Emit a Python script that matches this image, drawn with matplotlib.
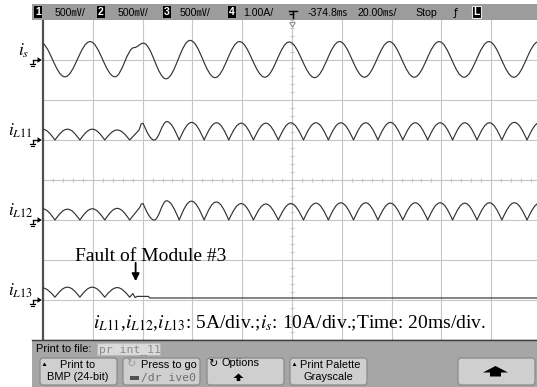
import numpy as np
import matplotlib
matplotlib.use("Agg")
import matplotlib.pyplot as plt
from matplotlib.path import Path
from matplotlib.patches import PathPatch, Rectangle, FancyBboxPatch, Polygon

plt.rcParams["mathtext.fontset"] = "stix"

# ---------------- scope settings ----------------
MS_PER_DIV = 20.0
N_HDIV_VISIBLE = 9.92          # screen is cut a little before the 10th division
N_VDIV = 8
TRIGGER_T = 100.0              # ms, trigger position (screen centre)

# channel ground references, divisions from screen centre
ref_is, ref_l11, ref_l12, ref_l13 = 3.0, 1.0, -1.0, -3.0

# ---------------- waveform knots ----------------
# time (ms), level (div above channel ground), shape: 'p' smooth extremum, 'c' corner
is_t = [-1.2, 8.8, 18.9, 28.9, 36.6, 40.3, 49.4, 59.1, 69.1, 78.9, 89.1, 98.9, 109.1,
        119.1, 129.1, 139.1, 149.1, 159.1, 169.1, 179.1, 189.1, 199.1, 209.1]
is_v = [0.45, -0.42, 0.46, -0.42, 0.31, 0.42, -0.47, 0.49, -0.44, 0.46, -0.43, 0.45, -0.44,
        0.46, -0.43, 0.46, -0.43, 0.46, -0.43, 0.46, -0.43, 0.46, -0.43]
is_k = "ppppppppppppppppppppppp"

l11_t = [-0.2, 4.8, 9.8, 14.8, 19.8, 24.8, 29.8, 34.8, 38.6, 39.4, 40.2, 44.7,
         49.7, 54.7, 59.7, 64.7, 69.7, 74.6, 79.6, 84.5, 89.5, 94.5, 99.5, 104.6,
         109.6, 114.6, 119.6, 124.7, 129.6, 134.5, 139.5, 144.5, 149.5, 154.5,
         159.5, 164.5, 169.4, 174.3, 179.3, 184.3, 189.3, 194.4, 199.4]
l11_v = [0.27, 0, 0.27, 0, 0.27, 0, 0.25, 0, 0.25, 0.40, 0.42, 0,
         0.46, 0, 0.44, 0, 0.43, 0, 0.42, 0, 0.42, 0, 0.43, 0,
         0.43, 0, 0.43, 0, 0.43, 0, 0.44, 0, 0.43, 0,
         0.43, 0, 0.43, 0, 0.43, 0, 0.44, 0, 0.43]
l11_k = "pcpcpcpccccp" + "pcpcpcpcpcpcpcpcpcpcpcpcpcpcpcp"

l12_t = [-0.2, 4.8, 9.8, 14.8, 19.8, 24.8, 29.8, 34.8, 38.8, 39.5, 40.2, 44.7,
         49.6, 54.7, 59.6, 64.7, 69.6, 74.6, 79.6, 84.5, 89.5, 94.5, 99.5, 104.6,
         109.6, 114.6, 119.6, 124.7, 129.6, 134.5, 139.5, 144.5, 149.5, 154.5,
         159.5, 164.5, 169.4, 174.3, 179.3, 184.3, 189.3, 194.4, 199.4]
l12_v = [0.28, 0, 0.27, 0, 0.28, 0, 0.29, 0, 0.31, 0.40, 0.41, 0,
         0.48, 0, 0.47, 0, 0.45, 0, 0.41, 0, 0.40, 0, 0.41, 0,
         0.42, 0, 0.43, 0, 0.43, 0, 0.42, 0, 0.43, 0,
         0.43, 0, 0.42, 0, 0.43, 0, 0.43, 0, 0.42]
l12_k = l11_k

l13_t = [-0.2, 4.8, 9.8, 14.8, 19.8, 24.8, 29.8, 34.8, 36.1, 37.0, 37.8, 42.3, 42.9, 198.4]
l13_v = [0.30, 0.07, 0.32, 0.07, 0.32, 0.07, 0.31, 0.07, 0.16, 0.06, 0.09, 0.09, 0.05, 0.05]
l13_k = "pcpcpcpccccccc"

labels = [r"$i_s$", r"$i_{\mathit{L11}}$", r"$i_{\mathit{L12}}$", r"$i_{\mathit{L13}}$"]
scale_note = (r"$i_{\mathit{L11}}$,$i_{\mathit{L12}}$,$i_{\mathit{L13}}$: 5A/div.;"
              r"$i_s$: 10A/div.;Time: 20ms/div.")
fault_note = "Fault of Module #3"
fault_t = 37.2

top_fields = ["500\u33B7/", "500\u33B7/", "500\u33B7/", "1.00A/"]
delay_txt, tbase_txt, run_txt = "-374.8\u33B3", "20.00\u33B3/", "Stop"

# ---------------- colours ----------------
TRACE = "#333333"
GRID = "#c6c6c6"
BAR = "#9c9c9c"
PANEL = "#a6a6a6"
BTN = "#cfcfcf"
BTN_EDGE = "#8a8a8a"

W, H = 537, 387
fig = plt.figure(figsize=(W / 100, H / 100), dpi=100)
fig.patch.set_facecolor("white")

GX0, GY0, GY1 = 43, 20, 340
t_span = N_HDIV_VISIBLE * MS_PER_DIV
ax = fig.add_axes([GX0 / W, 1 - GY1 / H, (W - GX0) / W, (GY1 - GY0) / H])
ax.set_xlim(0, t_span)
ax.set_ylim(-N_VDIV / 2, N_VDIV / 2)
ax.set_xticks(np.arange(MS_PER_DIV, t_span, MS_PER_DIV))
ax.set_yticks(np.arange(-3, 4, 1))
ax.grid(True, color=GRID, lw=0.8)
ax.tick_params(length=0, labelbottom=False, labelleft=False)
for s in ("top", "right"):
    ax.spines[s].set_visible(False)
ax.spines["left"].set_color("#505050")
ax.spines["left"].set_linewidth(1.6)
ax.spines["bottom"].set_color("#606060")
ax.spines["bottom"].set_linewidth(1.0)

# minor ticks along the centre axes
mx = np.arange(0, t_span, MS_PER_DIV / 5)
ax.vlines(mx, -0.05, 0.05, color=GRID, lw=0.8)
my = np.arange(-4, 4.01, 0.2)
ax.hlines(my, TRIGGER_T - 0.8, TRIGGER_T + 0.8, color=GRID, lw=0.8)

C_SMOOTH, C_Q, C_QV = 0.3642, 0.3516, 0.5523


def wave_path(t, v, kind, ref):
    verts = [(t[0], v[0] + ref)]
    codes = [Path.MOVETO]
    for i in range(len(t) - 1):
        t0, t1 = t[i], t[i + 1]
        v0, v1 = v[i] + ref, v[i + 1] + ref
        dt, dv = t1 - t0, v1 - v0
        k0, k1 = kind[i], kind[i + 1]
        if k0 == "p" and k1 == "p":
            p1, p2 = (t0 + C_SMOOTH * dt, v0), (t1 - C_SMOOTH * dt, v1)
        elif k0 == "c" and k1 == "p":
            p1, p2 = (t0 + C_Q * dt, v0 + C_QV * dv), (t1 - C_Q * dt, v1)
        elif k0 == "p" and k1 == "c":
            p1, p2 = (t0 + C_Q * dt, v0), (t1 - C_Q * dt, v1 - C_QV * dv)
        else:
            p1, p2 = (t0 + dt / 3, v0 + dv / 3), (t0 + 2 * dt / 3, v0 + 2 * dv / 3)
        verts += [p1, p2, (t1, v1)]
        codes += [Path.CURVE4] * 3
    return Path(verts, codes)


channels = [(is_t, is_v, is_k, ref_is), (l11_t, l11_v, l11_k, ref_l11),
            (l12_t, l12_v, l12_k, ref_l12), (l13_t, l13_v, l13_k, ref_l13)]
for t, v, k, r in channels:
    ax.add_patch(PathPatch(wave_path(t, v, k, r), fill=False, ec=TRACE, lw=0.85,
                           joinstyle="round", capstyle="round", zorder=3))

ax.annotate("", xy=(fault_t, -2.53), xytext=(fault_t, -2.07),
            arrowprops=dict(arrowstyle="-|>", color="black", lw=1.3,
                            mutation_scale=11, shrinkA=0, shrinkB=0), zorder=4)

# ---------------- overlay in pixel coordinates ----------------
ov = fig.add_axes([0, 0, 1, 1], facecolor="none")
ov.set_xlim(0, W)
ov.set_ylim(H, 0)
ov.axis("off")
fig.canvas.draw()


def ypx(div):
    return H - ax.transData.transform((0, div))[1]


ov.text(75, 261, fault_note, family="Liberation Serif", fontsize=14,
        ha="left", va="baseline")
ov.text(93, 328, scale_note, family="Liberation Serif", fontsize=14,
        ha="left", va="baseline")

# channel labels and ground markers
for lab, (_, _, _, r), lx in zip(labels, channels, [18, 8, 8, 8]):
    y0 = ypx(r)
    ov.text(lx, y0 - 4.5, lab, fontsize=12.5, ha="left", va="baseline")
    ov.add_patch(Polygon([(37.5, y0 - 2.8), (41.8, y0), (37.5, y0 + 2.8)], closed=True,
                         fc="black", ec="none"))
    ov.plot([32.5, 38], [y0, y0], color="black", lw=0.9)
    ov.plot([32.5, 32.5], [y0, y0 + 4], color="black", lw=0.9)
    ov.plot([30.2, 34.8], [y0 + 4, y0 + 4], color="black", lw=0.9)
    ov.plot([31.2, 33.8], [y0 + 5.6, y0 + 5.6], color="black", lw=0.8)

# trigger position marker
ov.add_patch(Polygon([(289.8, 22.5), (295.2, 22.5), (292.5, 27.2)], closed=True,
                     fc="white", ec="#8c8c8c", lw=0.8))

# ---------------- top status bar ----------------
ov.add_patch(Rectangle((32, 4), W - 32, 16, fc=BAR, ec="none"))
UI = ["Liberation Sans", "Noto Sans CJK JP", "DejaVu Sans"]
box_x = [34, 97, 163, 228]
txt_x = [55, 118, 180, 243]
for i, (bx, tx, s) in enumerate(zip(box_x, txt_x, top_fields)):
    ov.add_patch(Rectangle((bx, 6), 7.5, 12, fc="black", ec="none"))
    ov.text(bx + 3.8, 12.3, str(i + 1), color="white", fontsize=7.5, weight="bold",
            family="Liberation Sans", ha="center", va="center")
    ov.text(tx, 16.5, s, family=UI, fontsize=7.6, ha="left", va="baseline")
# trigger level icon
ov.plot([288.5, 296.5], [10.5, 10.5], color="black", lw=1.0)
ov.plot([292.5, 292.5], [10.5, 17.5], color="black", lw=1.0)
ov.plot([290.0, 292.5], [14.0, 14.0], color="black", lw=1.0)
ov.text(308, 16.5, delay_txt, family=UI, fontsize=7.6, ha="left", va="baseline")
ov.text(357, 16.5, tbase_txt, family=UI, fontsize=7.6, ha="left", va="baseline")
ov.text(415, 16.5, run_txt, family=UI, fontsize=7.6, ha="left", va="baseline")
ov.text(455.5, 16.5, "\u0192", family="DejaVu Sans", fontsize=7.6, ha="center",
        va="baseline")
ov.add_patch(Rectangle((472, 6), 8.5, 12, fc="black", ec="#e6e6e6", lw=0.8))
ov.text(476.3, 12.3, "L", color="white", fontsize=7.5, weight="bold",
        family="Liberation Sans", ha="center", va="center")

# ---------------- bottom soft-key panel ----------------
ov.add_patch(Rectangle((32, 340), W - 32, H - 340, fc=PANEL, ec="none"))
ov.plot([32, W], [340, 340], color="#3c3c3c", lw=1.0)
ov.text(35.5, 352.3, "Print to file:", family="Liberation Sans", fontsize=7.9,
        ha="left", va="baseline")
ov.add_patch(Rectangle((97, 343), 63, 11.5, fc="#dadada", ec="#b8b8b8", lw=0.8))
ov.text(99, 352, "pr int_11", family="DejaVu Sans Mono", fontsize=8.2, color="#8c8c8c",
        ha="left", va="baseline")

btn_x = [40, 123, 207, 290, 458]
for bx in btn_x:
    ov.add_patch(FancyBboxPatch((bx, 358), 77, 27, boxstyle="round,pad=0,rounding_size=3",
                                fc=BTN, ec=BTN_EDGE, lw=0.9))

FS = 7.9
# button 1
ov.add_patch(Polygon([(42.5, 366), (46.5, 366), (44.5, 362.5)], fc="black", ec="none"))
ov.text(78, 364.5, "Print to", family="Liberation Sans", fontsize=FS, ha="center", va="center")
ov.text(78, 377.5, "BMP (24-bit)", family="Liberation Sans", fontsize=FS, ha="center",
        va="center")
# button 2
ov.text(131, 364.5, "\u21BB", family="DejaVu Sans", fontsize=8, color="#9a9a9a",
        ha="center", va="center")
ov.text(168.5, 364.5, "Press to go", family="Liberation Sans", fontsize=FS, ha="center",
        va="center")
ov.add_patch(Rectangle((130, 375.5), 9, 4, fc="#505050", ec="none"))
ov.text(141, 381, "/dr ive0", family="DejaVu Sans Mono", fontsize=8.2, color="#6e6e6e",
        ha="left", va="baseline")
# button 3
ov.text(212.5, 364, "\u21BB", family="DejaVu Sans", fontsize=8, color="black",
        ha="center", va="center")
ov.text(241, 363.5, "Options", family="Liberation Sans", fontsize=FS, ha="center",
        va="center")
ov.add_patch(Polygon([(233.5, 378), (238.5, 373.5), (243.5, 378), (240.3, 378),
                      (240.3, 381), (236.7, 381), (236.7, 378)], fc="black", ec="none"))
# button 4
ov.add_patch(Polygon([(292.5, 366), (296.5, 366), (294.5, 362.5)], fc="black", ec="none"))
ov.text(330, 364.5, "Print Palette", family="Liberation Sans", fontsize=FS, ha="center",
        va="center")
ov.text(328, 377.5, "Grayscale", family="Liberation Sans", fontsize=FS, ha="center",
        va="center")
# button 5
ov.add_patch(Polygon([(483, 372.5), (495.5, 366), (508, 372.5), (501, 372.5),
                      (501, 376.5), (490, 376.5), (490, 372.5)], fc="black", ec="none"))

fig.savefig("out.png", dpi=100)
